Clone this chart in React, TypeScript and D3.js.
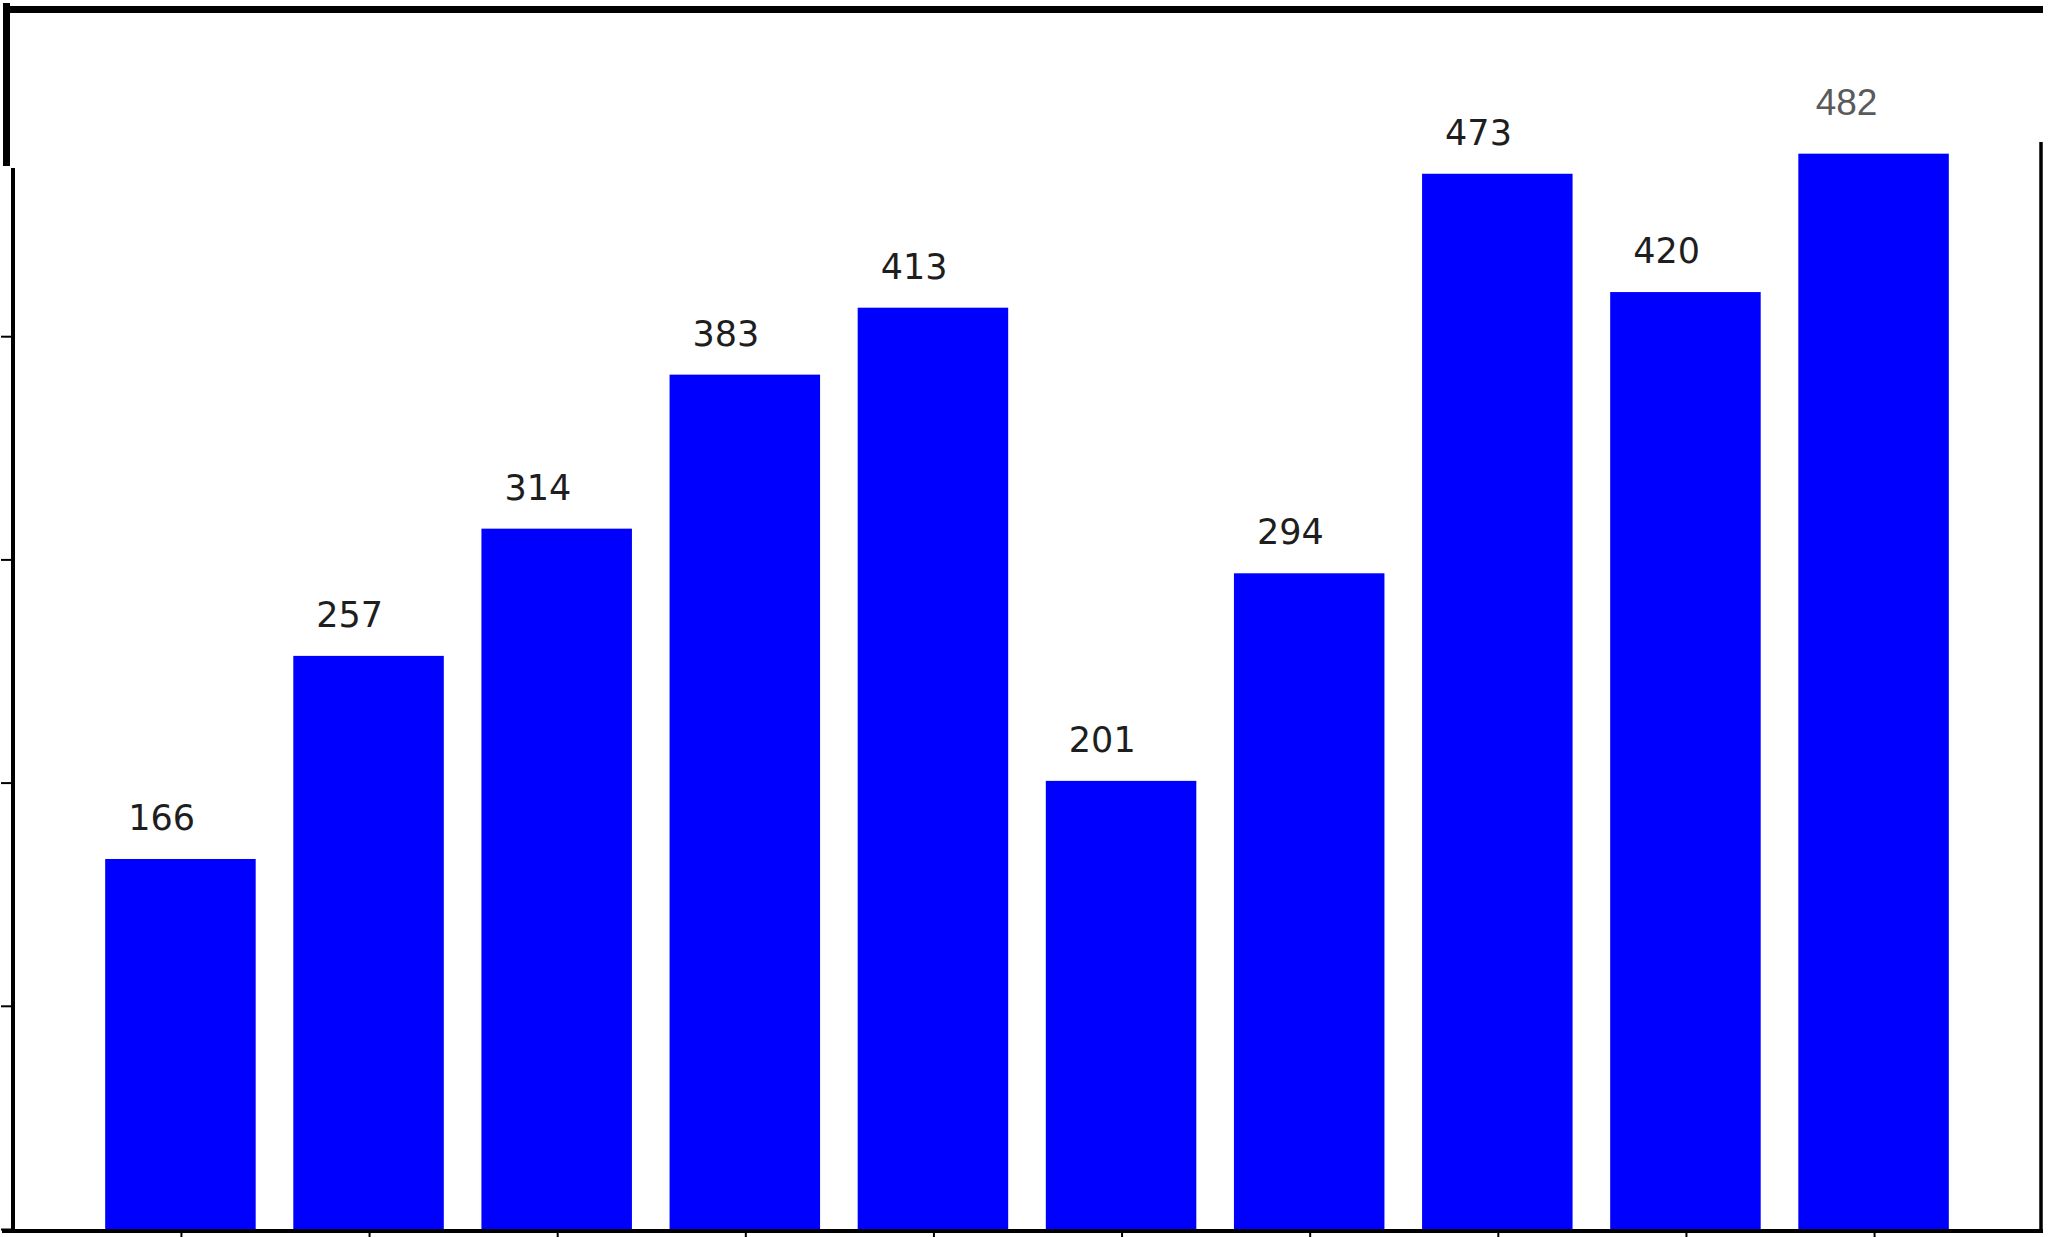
import React from "react";
import * as d3 from "d3";

const categories = ["A", "B", "C", "D", "E", "F", "G", "H", "I", "J"];
const values = [166, 257, 314, 383, 413, 201, 294, 473, 420, 482];
const yTicks = [0, 100, 200, 300, 400];

const W = 2049;
const H = 1237;

export default function App() {
  const x = d3.scaleLinear().domain([-0.89, categories.length - 1 + 0.89]).range([13, 2041]);
  const y = d3.scaleLinear().domain([0, 500]).range([1229.5, 1229.5 - 500 * 2.232]);
  const barW = x(0.8) - x(0);
  const last = values.length - 1;

  return (
    <svg
      width={W}
      height={H}
      style={{ position: "absolute", left: 0, top: 0, background: "#fff" }}
    >
      <rect x={0} y={0} width={W} height={H} fill="#fff" />
      {/* bars */}
      {values.map((v, i) => (
        <rect
          key={categories[i]}
          x={x(i) - barW / 2}
          y={y(v)}
          width={barW}
          height={y(0) - y(v)}
          fill="#0000ff"
        />
      ))}
      {/* value labels */}
      {values.map((v, i) =>
        i === last ? (
          <text
            key={"l" + i}
            x={x(i) - 27}
            y={115}
            textAnchor="middle"
            fontFamily="'Liberation Sans', Arial, sans-serif"
            fontSize={37}
            fill="#5a5a5a"
          >
            {v}
          </text>
        ) : (
          <text
            key={"l" + i}
            x={x(i - 0.1)}
            y={y(v) - 29}
            textAnchor="middle"
            fontFamily="'DejaVu Sans', sans-serif"
            fontSize={35}
            fill="#1e1e1e"
          >
            {v}
          </text>
        )
      )}
      {/* spines */}
      <line x1={13} x2={13} y1={168} y2={1231} stroke="#000" strokeWidth={4} />
      <line x1={2041} x2={2041} y1={142} y2={1231} stroke="#000" strokeWidth={3.5} />
      <line x1={2} x2={2043} y1={1231} y2={1231} stroke="#000" strokeWidth={4} />
      {/* y ticks */}
      {yTicks.map((t) => (
        <line key={"yt" + t} x1={1} x2={13} y1={y(t)} y2={y(t)} stroke="#000" strokeWidth={2} />
      ))}
      {/* x ticks */}
      {categories.map((c, i) => (
        <line key={"xt" + c} x1={x(i) + 1} x2={x(i) + 1} y1={1232} y2={1242} stroke="#000" strokeWidth={2} />
      ))}
      {/* outer frame */}
      <rect x={3} y={6} width={2040} height={7} fill="#000" />
      <rect x={3} y={3} width={7} height={163} fill="#000" />
    </svg>
  );
}
